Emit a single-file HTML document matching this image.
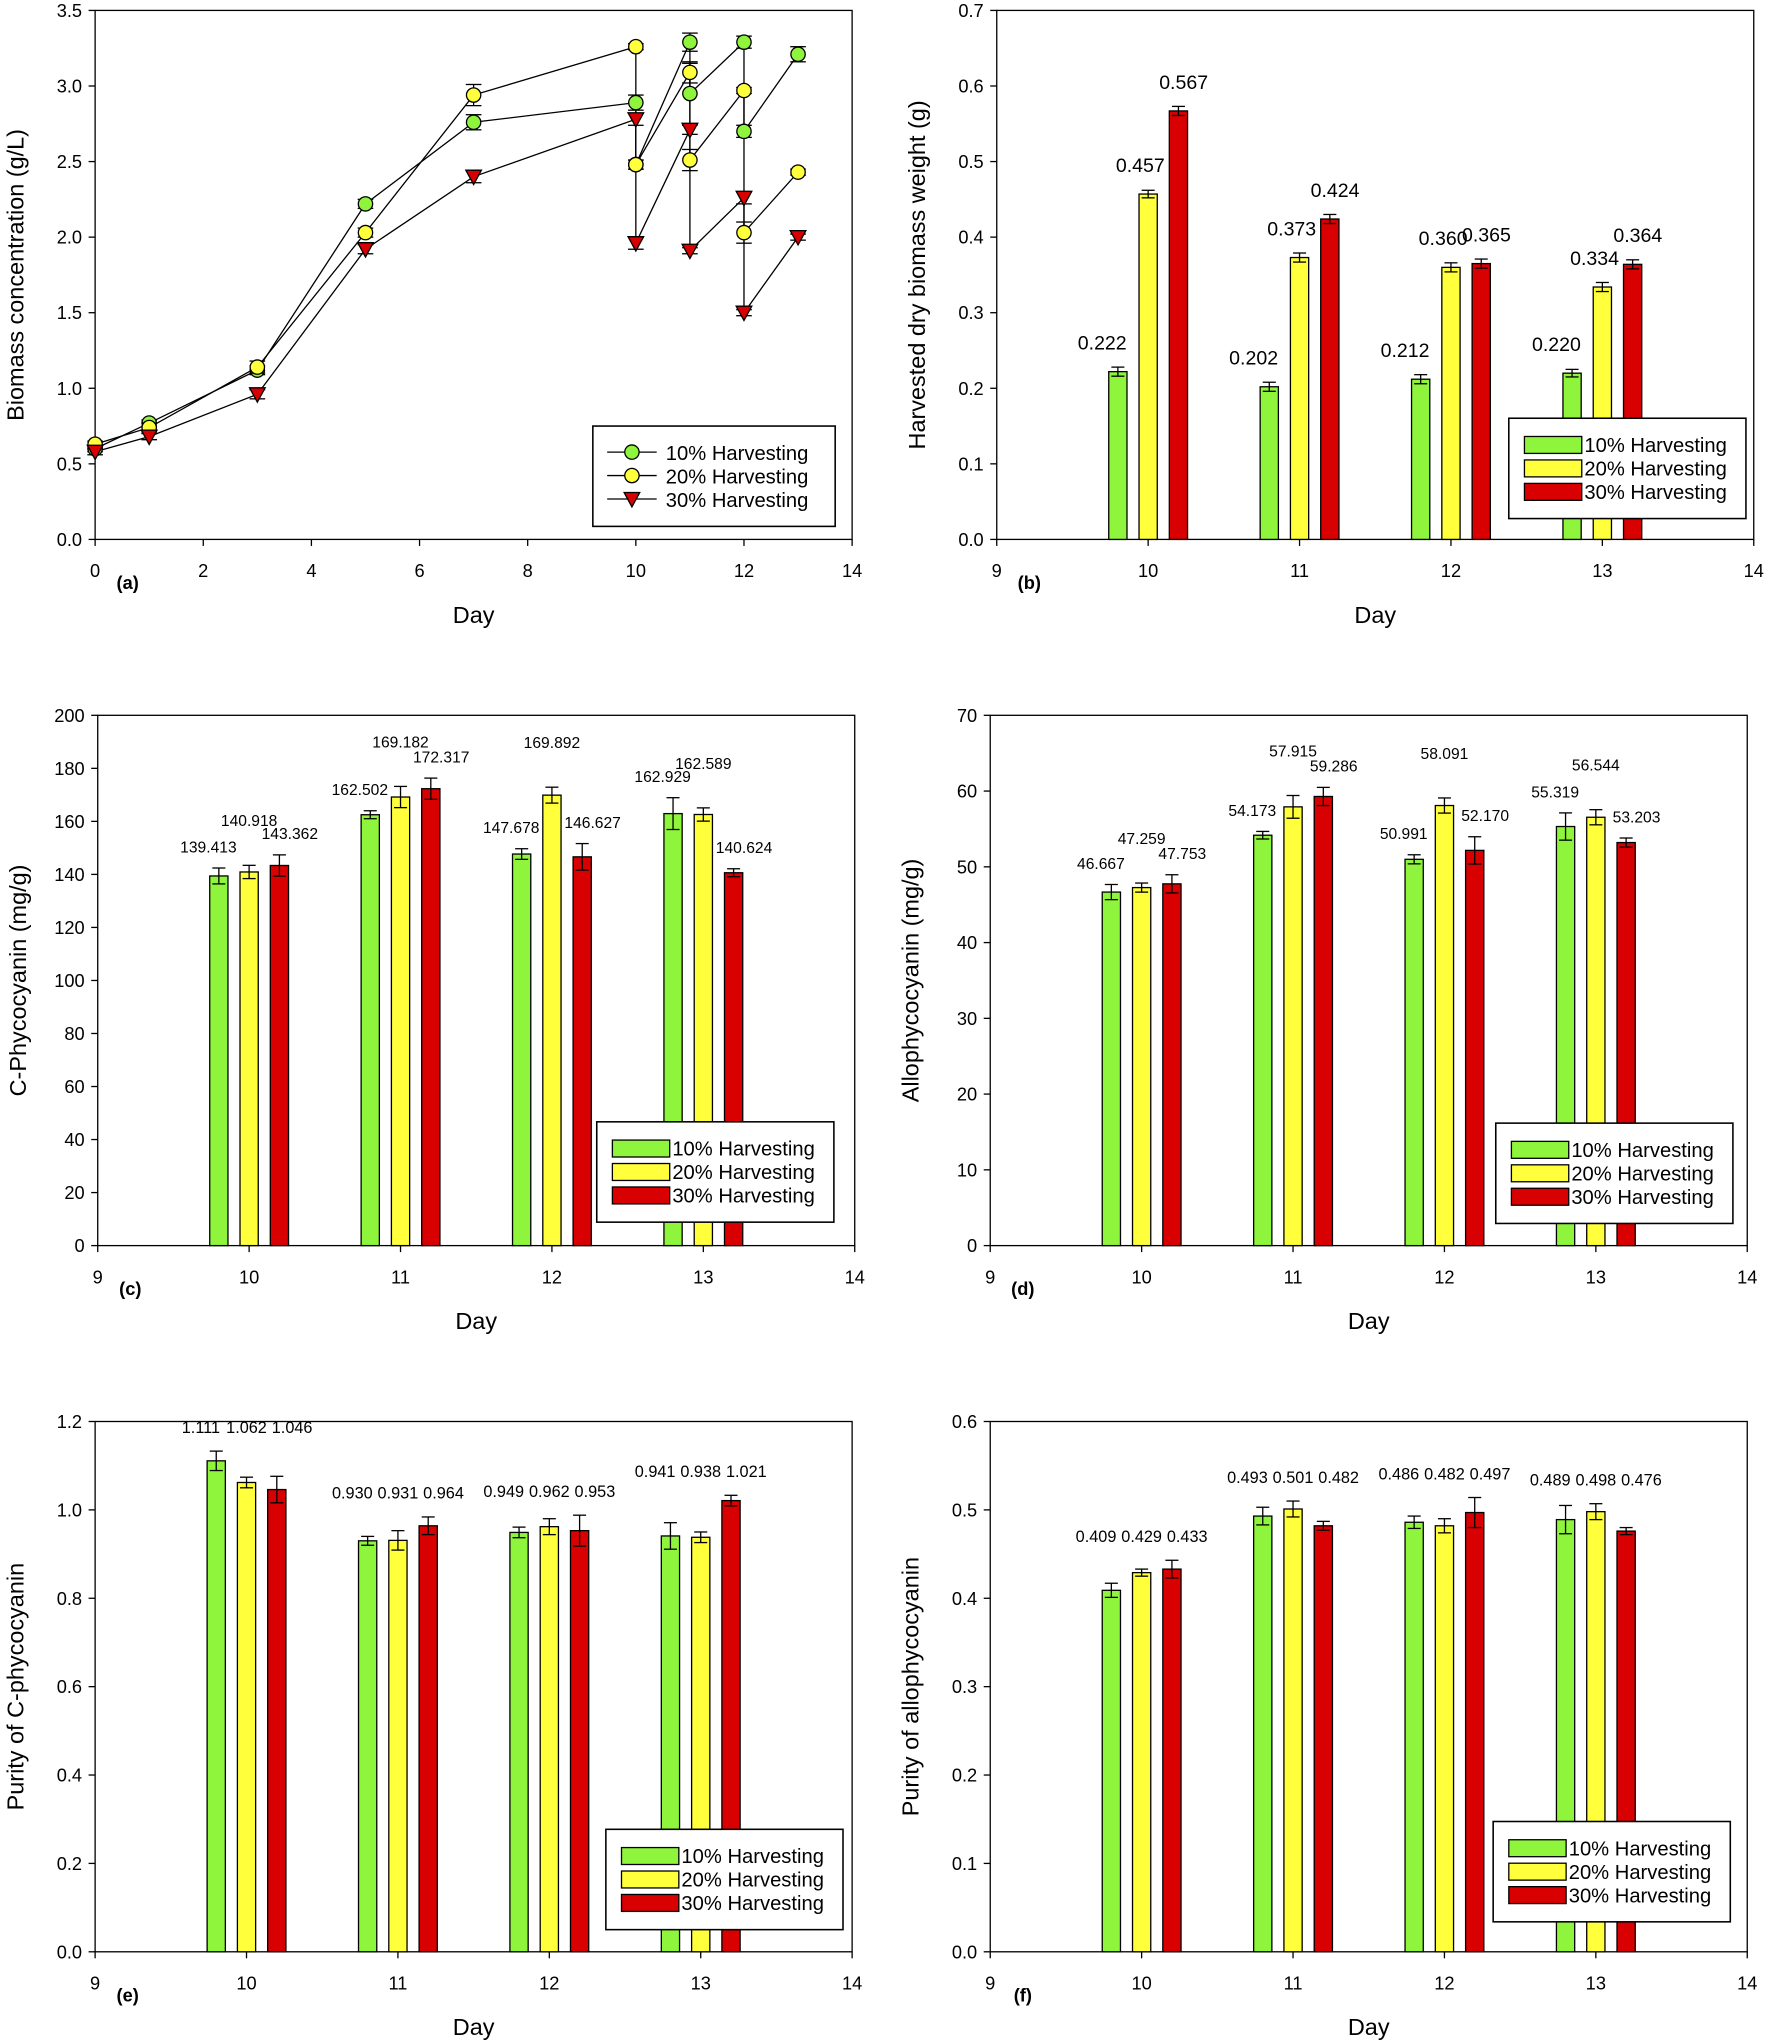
<!DOCTYPE html>
<html><head><meta charset="utf-8"><style>
html,body{margin:0;padding:0;background:#fff;}
svg{display:block;font-family:"Liberation Sans",Arial,sans-serif;}
</style></head><body>
<svg id="fig" width="1772" height="2043" viewBox="0 0 1360 1568" xmlns="http://www.w3.org/2000/svg"></svg>
<script>
// ---- Panel (a) data: line series incl. post-harvest points ----
const aDays10 = [0,1,3,5,7,10,10,11,11,12,12,13];
const aVals10 = [0.60,0.77,1.12,2.22,2.76,2.89,2.48,3.29,2.95,3.29,2.70,3.21];
const aDays20 = [0,1,3,5,7,10,10,11,11,12,12,13];
const aVals20 = [0.63,0.74,1.14,2.03,2.94,3.26,2.48,3.09,2.51,2.97,2.03,2.43];
const aDays30 = [0,1,3,5,7,10,10,11,11,12,12,13];
const aVals30 = [0.58,0.68,0.96,1.92,2.40,2.78,1.96,2.71,1.91,2.26,1.50,2.00];
const aErr10 = [0.02,0.02,0.03,0.03,0.05,0.05,0.03,0.06,0.2,0.04,0.04,0.05];
const aErr20 = [0.02,0.03,0.04,0.03,0.07,0.02,0.03,0.07,0.07,0.02,0.07,0.02];
const aErr30 = [0.02,0.02,0.03,0.03,0.04,0.04,0.04,0.03,0.02,0.04,0.02,0.02];
// ---- Bar panels ----
const barDays = [10,11,12,13];
const bVals = [[0.222,0.202,0.212,0.220],[0.457,0.373,0.360,0.334],[0.567,0.424,0.365,0.364]];
const bErr  = [[0.006,0.006,0.006,0.005],[0.005,0.006,0.006,0.006],[0.006,0.006,0.006,0.006]];
const cVals = [[139.413,162.502,147.678,162.929],[140.918,169.182,169.892,162.589],[143.362,172.317,146.627,140.624]];
const cErr  = [[3,1.5,2,6],[2.5,4,3,2.5],[4,4,5,1.5]];
const dVals = [[46.667,54.173,50.991,55.319],[47.259,57.915,58.091,56.544],[47.753,59.286,52.170,53.203]];
const dErr  = [[1,0.5,0.6,1.8],[0.6,1.5,1,1],[1.2,1.2,1.8,0.6]];
const eVals = [[1.111,0.930,0.949,0.941],[1.062,0.931,0.962,0.938],[1.046,0.964,0.953,1.021]];
const eErr  = [[0.022,0.01,0.012,0.03],[0.012,0.022,0.018,0.012],[0.03,0.02,0.035,0.012]];
const fVals = [[0.409,0.493,0.486,0.489],[0.429,0.501,0.482,0.498],[0.433,0.482,0.497,0.476]];
const fErr  = [[0.008,0.01,0.007,0.016],[0.004,0.009,0.008,0.009],[0.01,0.005,0.017,0.004]];
const seriesNames = ["10% Harvesting","20% Harvesting","30% Harvesting"];
const colors = ["#8ff53c","#ffff3c","#d80000"];

const svg = document.getElementById('fig');
const NS = "http://www.w3.org/2000/svg";
function el(tag, attrs, parent){ const e=document.createElementNS(NS,tag); for(const k in attrs) e.setAttribute(k,attrs[k]); (parent||svg).appendChild(e); return e; }
function txt(s, attrs, parent){ const e=el('text',attrs,parent); e.textContent=s; return e; }

function frame(g, L, R, T, B, xmin, xmax, xticks, ymin, ymax, ystep, ydec, ylabel, letter){
  const sx = v => L + (v-xmin)/(xmax-xmin)*(R-L);
  const sy = v => B - (v-ymin)/(ymax-ymin)*(B-T);
  el('rect',{x:L,y:T,width:R-L,height:B-T,fill:'none',stroke:'#000','stroke-width':1},g);
  for(const t of xticks){
    el('line',{x1:sx(t),x2:sx(t),y1:B,y2:B+5,stroke:'#000'},g);
    const tl=txt(String(t),{x:sx(t),y:B+29,'font-size':14,'text-anchor':'middle'},g);
    
    
  }
  for(let v=ymin; v<=ymax+1e-9; v+=ystep){
    el('line',{x1:L-5,x2:L,y1:sy(v),y2:sy(v),stroke:'#000'},g);
    const tl=txt(v.toFixed(ydec),{x:L-10,y:sy(v)+5,'font-size':14,'text-anchor':'end'},g);
    
    
  }
  const xt=txt('Day',{x:(L+R)/2,y:B+64,'font-size':18,'text-anchor':'middle'},g);
  
  
  const yt=txt(ylabel,{x:0,y:0,'font-size':18,'text-anchor':'middle',transform:`translate(${L-55},${(T+B)/2}) rotate(-90)`},g);
  
  
  const lt=txt(letter,{x:L+25,y:B+38,'font-size':14,'font-weight':'bold','text-anchor':'middle'},g);
  
  
  return {sx,sy};
}

function legendBars(g, x, y){
  const box=el('rect',{x:x,y:y,width:182,height:77,fill:'#fff',stroke:'#000','stroke-width':1.2},g);
  
  
  for(let i=0;i<3;i++){
    const yy=y+20+i*18;
    el('rect',{x:x+12,y:yy-6,width:44,height:13,fill:colors[i],stroke:'#000'},g);
    const t=txt(seriesNames[i],{x:x+58,y:yy+6,'font-size':15.5},g);
    
    
  }
}

function barPanel(name, L,R,T,B, ymax, ystep, ydec, ylabel, letter, vals, errs, dec, labelMode, legX, legY){
  const g=el('g',{});
  
  
  const {sx,sy}=frame(g,L,R,T,B,9,14,[9,10,11,12,13,14],0,ymax,ystep,ydec,ylabel,letter);
  const bw=14;
  const bigDx=[-12,-6,4];
  for(let d=0; d<barDays.length; d++){
    let groupTop=Infinity;
    for(let s=0;s<3;s++) groupTop=Math.min(groupTop, sy(vals[s][d]+errs[s][d]));
    for(let s=0;s<3;s++){
      const v=vals[s][d], e=errs[s][d];
      const cx=sx(barDays[d]+(s-1)*0.2);
      const r=el('rect',{x:cx-bw/2,y:sy(v),width:bw,height:B-sy(v),fill:colors[s],stroke:'#000','stroke-width':1},g);
      
      
      el('line',{x1:cx,x2:cx,y1:sy(v+e),y2:sy(v-e),stroke:'#000'},g);
      el('line',{x1:cx-5,x2:cx+5,y1:sy(v+e),y2:sy(v+e),stroke:'#000'},g);
      el('line',{x1:cx-5,x2:cx+5,y1:sy(v-e),y2:sy(v-e),stroke:'#000'},g);
      let lx=cx, ly, fs;
      if(labelMode==='group'){ lx=sx(barDays[d])+(s-1)*35; ly=groupTop-14; fs=12.5; }
      else if(labelMode==='big'){ lx=cx+bigDx[s]; ly=sy(v)-17; fs=15; }
      else { lx=cx+(s-1)*8; ly=sy(v+e)-12-(s===1?18:0); fs=12; }
      const lab=txt(v.toFixed(dec),{x:lx,y:ly,'font-size':fs,'text-anchor':'middle'},g);
      
      
    }
  }
  legendBars(g,legX,legY);
}

// ---- Panel (a) ----
(function(){
  const g=el('g',{});
  
  
  const {sx,sy}=frame(g,73,654,8,414,0,14,[0,2,4,6,8,10,12,14],0,3.5,0.5,1,'Biomass concentration (g/L)','(a)');
  const series=[[aDays10,aVals10,aErr10],[aDays20,aVals20,aErr20],[aDays30,aVals30,aErr30]];
  series.forEach(([dd,vv,ee],s)=>{
    let p='';
    dd.forEach((d,i)=>{ p+=(i?'L':'M')+sx(d)+','+sy(vv[i]); });
    const ln=el('path',{d:p,fill:'none',stroke:'#000','stroke-width':1},g);
    
    
  });
  series.forEach(([dd,vv,ee],s)=>{
    dd.forEach((d,i)=>{
      const x=sx(d), y=sy(vv[i]), yt=sy(vv[i]+ee[i]), yb=sy(vv[i]-ee[i]);
      el('line',{x1:x,x2:x,y1:yt,y2:yb,stroke:'#000'},g);
      el('line',{x1:x-6,x2:x+6,y1:yt,y2:yt,stroke:'#000'},g);
      el('line',{x1:x-6,x2:x+6,y1:yb,y2:yb,stroke:'#000'},g);
      let m;
      if(s<2) m=el('circle',{cx:x,cy:y,r:5.5,fill:colors[s],stroke:'#000'},g);
      else m=el('path',{d:`M${x-6},${y-5}L${x+6},${y-5}L${x},${y+6}Z`,fill:colors[2],stroke:'#000'},g);
      
      
    });
  });
  const box=el('rect',{x:455,y:327,width:186,height:77,fill:'#fff',stroke:'#000','stroke-width':1.2},g);
  
  
  for(let i=0;i<3;i++){
    const yy=347+i*18;
    el('line',{x1:466,x2:504,y1:yy,y2:yy,stroke:'#000'},g);
    if(i<2) el('circle',{cx:485,cy:yy,r:5.5,fill:colors[i],stroke:'#000'},g);
    else el('path',{d:`M479,${yy-5}L491,${yy-5}L485,${yy+6}Z`,fill:colors[2],stroke:'#000'},g);
    const t=txt(seriesNames[i],{x:511,y:yy+6,'font-size':15.5},g);
    
    
  }
})();

barPanel('panel-b-dry-weight',765,1346,8,414,0.7,0.1,1,'Harvested dry biomass weight (g)','(b)',bVals,bErr,3,'big',1158,321);
barPanel('panel-c-phycocyanin',75,656,549,956,200,20,0,'C-Phycocyanin (mg/g)','(c)',cVals,cErr,3,'stagger',458,861);
barPanel('panel-d-allophycocyanin',760,1341,549,956,70,10,0,'Allophycocyanin (mg/g)','(d)',dVals,dErr,3,'stagger',1148,862);
barPanel('panel-e-purity-cpc',73,654,1091,1498,1.2,0.2,1,'Purity of C-phycocyanin','(e)',eVals,eErr,3,'group',465,1404);
barPanel('panel-f-purity-apc',760,1341,1091,1498,0.6,0.1,1,'Purity of allophycocyanin','(f)',fVals,fErr,3,'group',1146,1398);
</script>
</body></html>
